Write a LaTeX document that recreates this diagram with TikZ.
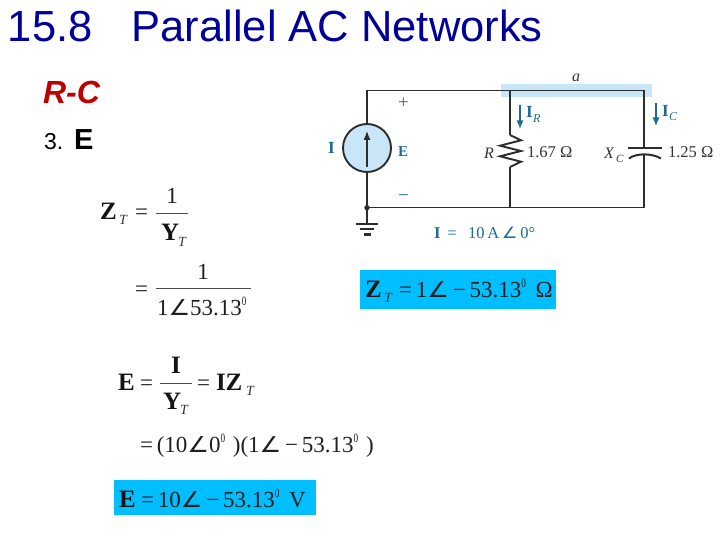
\documentclass[tikz,border=0pt]{standalone}
\usepackage{fontspec}
\usepackage{graphicx}
\setmainfont{Liberation Serif}
\newfontfamily\arialf{Liberation Sans}
\newfontfamily\djv{DejaVu Sans}
\usetikzlibrary{arrows.meta}
\definecolor{titleblue}{RGB}{0,0,153}
\definecolor{hilite}{RGB}{200,230,248}
\definecolor{boxblue}{RGB}{0,190,255}
\definecolor{cirblue}{RGB}{30,105,150}
\definecolor{wire}{RGB}{45,45,45}
\newcommand{\fsz}[1]{\fontsize{#1}{#1}\selectfont}
\newcommand{\angsym}{{\djv\scalebox{1.05}[0.95]{∠}}}
\newcommand{\degsym}{\raisebox{0.42em}{\scalebox{0.4}[0.55]{0}}}
\tikzset{
  txt/.style={anchor=base west,inner sep=0pt,outer sep=0pt},
  eq/.style={txt,font=\fsz{23},text=black!88},
  eqb/.style={txt,font=\fsz{25}\bfseries,text=black!92},
  cir/.style={txt,font=\fsz{16.5},text=black!80},
  cirb/.style={txt,font=\fsz{17}\bfseries,text=cirblue},
  sub/.style={txt,font=\fsz{14}\itshape,text=black!80},
  wireline/.style={draw=wire,line width=1.1pt},
  fracbar/.style={draw=black!70,line width=0.7pt},
  curarrow/.style={draw=cirblue,line width=1.3pt,-{Latex[length=8.5pt,width=7pt]}},
}
\begin{document}
\begin{tikzpicture}[x=1pt,y=-1pt]
\useasboundingbox (0,0) rectangle (720,540);
\fill[white] (0,0) rectangle (720,540);
% title and headings
\node[txt,font=\arialf\fsz{43.5},text=titleblue] (title) at (8,42) {15.8\hspace{0.9em}Parallel AC Networks};
\node[txt,font=\arialf\fsz{32}\bfseries\itshape,text=red!75!black] (rc) at (43,104) {R-C};
\node[txt,font=\arialf\fsz{23},text=black] (three) at (44,150) {3.};
\node[txt,font=\arialf\fsz{29}\bfseries,text=black] (eE) at (74,150) {E};
% circuit
\fill[hilite] (501,84) rectangle (652,97.5);
\coordinate (tl) at (367,90.7);
\coordinate (tm) at (510,90.7);
\coordinate (tr) at (644,90.7);
\coordinate (bl) at (367,207.7);
\coordinate (bm) at (510,207.7);
\coordinate (br) at (644,207.7);
\coordinate (gnd) at (367,223);
\coordinate (rt) at (510,135);
\coordinate (rb) at (510,167);
\coordinate (ct) at (644,147.7);
\coordinate (cb) at (644,154);
\node[circle,draw=wire,fill=hilite,line width=1.9pt,minimum size=48pt,inner sep=0pt] (src) at (367,148) {};
\draw[wireline] (src.north) -- (tl) -- (tm) -- (tr) -- (ct);
\draw[wireline] (src.south) -- (bl) -- (bm) -- (br) -- (cb);
\draw[wireline] (bl) -- (gnd);
\fill[wire] (bl) circle (2.7);
\draw[wireline] (tm) -- (rt);
\draw[wireline] (rb) -- (bm);
\draw[draw=wire,line width=1.9pt,line join=miter] (rt) -- (521,140.3) -- (500,145.7) -- (521,151) -- (500,156.3) -- (521,161.7) -- (rb);
% capacitor
\draw[draw=wire,line width=2pt] (628,147.7) -- (662,147.7);
\draw[draw=wire,line width=2pt] (629,158.5) .. controls (636,153) and (652,153) .. (661,158.5);
% ground
\draw[draw=wire,line width=2.6pt] (356,224) -- (378,224);
\draw[draw=wire,line width=2.6pt] (360,229) -- (374,229);
\draw[draw=wire,line width=2.6pt] (364,234.5) -- (371,234.5);
% source arrow
\coordinate (sa) at (367,167);
\coordinate (sb) at (367,131);
\draw[draw=wire,line width=1.2pt,-{Latex[length=9pt,width=7pt]}] (sa) -- (sb);
% current arrows
\coordinate (ira) at (520,105);
\coordinate (irb) at (520,129);
\coordinate (ica) at (656,103);
\coordinate (icb) at (656,126);
\draw[curarrow] (ira) -- (irb);
\draw[curarrow] (ica) -- (icb);
% circuit labels
\node[cirb,font=\fsz{17}\bfseries] (lI) at (328,154) {I};
\node[cirb,font=\fsz{15}\bfseries] (lE) at (398,157) {E};
\node[txt,font=\fsz{19},text=cirblue] (lp) at (398,109) {+};
\node[txt,font=\fsz{19},text=cirblue] (lm) at (398,202) {−};
\node[txt,font=\fsz{16}\itshape,text=black!80] (la) at (572,82) {a};
\node[cirb] (lIR) at (526,118) {I};
\node[txt,font=\fsz{12}\itshape,text=cirblue] (lIRs) at (533,123) {R};
\node[cirb] (lIC) at (662,117) {I};
\node[txt,font=\fsz{12}\itshape,text=cirblue] (lICs) at (669,121) {C};
\node[txt,font=\fsz{16}\itshape,text=black!80] (lR) at (484,159) {R};
\node[cir] (lRv) at (527,158) {1.67 Ω};
\node[txt,font=\fsz{16}\itshape,text=black!80] (lX) at (604,159) {X};
\node[txt,font=\fsz{11}\itshape,text=black!80] (lXs) at (616,163) {C};
\node[cir] (lCv) at (668,158) {1.25 Ω};
\node[txt,font=\fsz{16.5},text=cirblue] (lbI) at (434,239) {\textbf{I}\, =\;\, 10\,A\,\angsym\,0°};
% Z_T equations
\node[eqb] (z1) at (100,220) {Z};
\node[sub] (z1s) at (119,225) {T};
\node[eq] (z1e) at (135,220) {=};
\draw[fracbar] (156,213.5) -- (188,213.5);
\node[eq,anchor=base] (z1n) at (172,204) {1};
\node[eqb] (z1d) at (161,240.5) {Y};
\node[sub] (z1ds) at (178,246) {T};
\node[eq] (z2e) at (135,296) {=};
\draw[fracbar] (156,288.5) -- (251,288.5);
\node[eq,anchor=base] (z2n) at (203,279) {1};
\node[eq] (z2d) at (157,315) {1\angsym 53.13\degsym};
% boxed Z_T
\node[fill=boxblue,minimum width=196pt,minimum height=39pt,inner sep=0pt] (zbox) at (458,289.5) {};
\node[eqb] (zb1) at (365,297) {Z};
\node[sub] (zb1s) at (384,302) {T};
\node[eq] (zb2) at (399,297) {=\,1\angsym\,−\,53.13\degsym\ \,Ω};
% E equations
\node[eqb] (e1) at (118,390) {E};
\node[eq] (e1e) at (140,390) {=};
\draw[fracbar] (160,383) -- (192,383);
\node[eqb,anchor=base] (e1n) at (176,373) {I};
\node[eqb] (e1d) at (163,409) {Y};
\node[sub] (e1ds) at (180,414) {T};
\node[eq] (e2e) at (197,390) {=};
\node[eqb] (e2z) at (216,390) {IZ};
\node[sub] (e2s) at (246,395) {T};
\node[eq] (e3) at (140,452) {=\,(10\angsym 0\degsym\,\,)(1\angsym\,−\,53.13\degsym\,\,)};
% boxed E
\node[fill=boxblue,minimum width=202pt,minimum height=35pt,inner sep=0pt] (ebox) at (215,497.5) {};
\node[eqb] (eb1) at (119,507.5) {E};
\node[eq] (eb2) at (141,507.5) {=\,10\angsym\,−\,53.13\degsym\ \,V};
\end{tikzpicture}
\end{document}
